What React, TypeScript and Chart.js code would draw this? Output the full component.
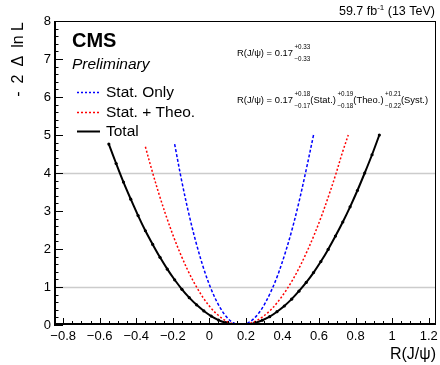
import { useEffect, useRef } from "react";
import { Chart, registerables } from "chart.js";

Chart.register(...registerables);

// ---- data ----
const totalX = [-0.55, -0.51, -0.47, -0.43, -0.39, -0.35, -0.31, -0.27, -0.23, -0.19, -0.15, -0.11, -0.07, -0.03, 0.01, 0.05, 0.09, 0.13, 0.17, 0.21, 0.25, 0.29, 0.33, 0.37, 0.41, 0.45, 0.49, 0.53, 0.57, 0.61, 0.65, 0.69, 0.73, 0.77, 0.81, 0.85, 0.89, 0.93];
const totalY = [4.76, 4.25, 3.76, 3.31, 2.88, 2.48, 2.12, 1.78, 1.47, 1.19, 0.94, 0.72, 0.53, 0.37, 0.235, 0.13, 0.06, 0.015, 0, 0.014, 0.055, 0.125, 0.22, 0.35, 0.5, 0.68, 0.89, 1.12, 1.38, 1.67, 1.99, 2.34, 2.71, 3.11, 3.54, 4.0, 4.48, 5.0];

const theoX = [-0.35, -0.31, -0.27, -0.23, -0.19, -0.15, -0.11, -0.07, -0.03, 0.01, 0.05, 0.09, 0.13, 0.17, 0.21, 0.25, 0.29, 0.33, 0.37, 0.41, 0.45, 0.49, 0.53, 0.57, 0.61, 0.65, 0.69, 0.73, 0.76];
const theoY = [4.69, 4.0, 3.36, 2.78, 2.25, 1.78, 1.36, 1.0, 0.69, 0.44, 0.25, 0.11, 0.028, 0, 0.023, 0.093, 0.21, 0.37, 0.58, 0.84, 1.14, 1.49, 1.89, 2.33, 2.82, 3.36, 3.94, 4.57, 5.0];

const statX = [-0.19, -0.15, -0.11, -0.07, -0.03, 0.01, 0.05, 0.09, 0.13, 0.17, 0.21, 0.25, 0.29, 0.33, 0.37, 0.41, 0.45, 0.49, 0.53, 0.57];
const statY = [4.76, 3.76, 2.88, 2.12, 1.47, 0.94, 0.53, 0.235, 0.059, 0, 0.05, 0.2, 0.45, 0.81, 1.26, 1.82, 2.47, 3.23, 4.09, 5.0];

const xTickValues = [-0.8, -0.6, -0.4, -0.2, 0, 0.2, 0.4, 0.6, 0.8, 1, 1.2];
const xTickLabels = ["\u22120.8", "\u22120.6", "\u22120.4", "\u22120.2", "0", "0.2", "0.4", "0.6", "0.8", "1", "1.2"];
const yTickValues = [0, 1, 2, 3, 4, 5, 6, 7, 8];
const yTickLabels = ["0", "1", "2", "3", "4", "5", "6", "7", "8"];
const gridValues = [1, 4];

const seriesNames = ["Stat. Only", "Stat. + Theo.", "Total"];

const FONT = '"Liberation Sans", Arial, Helvetica, sans-serif';

const toPts = (xs: number[], ys: number[]) => xs.map((x, i) => ({ x, y: ys[i] }));

function drawSupSub(ctx: CanvasRenderingContext2D, x: number, ySup: number, ySub: number, sup: string, sub: string, px: number) {
  ctx.font = `${px}px ${FONT}`;
  ctx.textAlign = "left";
  ctx.textBaseline = "middle";
  ctx.fillText(sup, x, ySup);
  ctx.fillText(sub, x, ySub);
  return Math.max(ctx.measureText(sup).width, ctx.measureText(sub).width);
}

function drawBase(ctx: CanvasRenderingContext2D, text: string, x: number, y: number, px: number) {
  ctx.font = `${px}px ${FONT}`;
  ctx.textAlign = "left";
  ctx.textBaseline = "middle";
  ctx.fillText(text, x, y);
  return ctx.measureText(text).width;
}

const decor = {
  id: "cmsDecor",
  beforeDatasetsDraw(chart: any) {
    const { ctx, chartArea: a, scales } = chart;
    ctx.save();
    ctx.strokeStyle = "#cccccc";
    ctx.lineWidth = 1.5;
    gridValues.forEach((v) => {
      const y = Math.round(scales.y.getPixelForValue(v)) + 0.5;
      ctx.beginPath();
      ctx.moveTo(a.left, y);
      ctx.lineTo(a.right, y);
      ctx.stroke();
    });
    ctx.restore();
  },
  afterDraw(chart: any) {
    const { ctx, chartArea: a, scales } = chart;
    const xs = scales.x;
    const ys = scales.y;
    ctx.save();
    // frame
    ctx.strokeStyle = "#000";
    ctx.lineWidth = 1;
    ctx.strokeRect(a.left + 0.5, a.top + 0.5, a.right - a.left - 1, a.bottom - a.top - 1);
    ctx.lineWidth = 2;
    ctx.beginPath();
    ctx.moveTo(a.left + 1, a.top);
    ctx.lineTo(a.left + 1, a.bottom - 1);
    ctx.lineTo(a.right, a.bottom - 1);
    ctx.stroke();

    // y ticks
    ctx.lineWidth = 1;
    for (let i = 0; i <= 40; i++) {
      const v = i * 0.2;
      const y = Math.round(ys.getPixelForValue(v)) + 0.5;
      const len = i % 5 === 0 ? 9 : 4.5;
      ctx.beginPath();
      ctx.moveTo(a.left, y);
      ctx.lineTo(a.left + len, y);
      ctx.stroke();
    }
    // x ticks
    for (let i = 0; i <= 40; i++) {
      const v = -0.8 + i * 0.05;
      const x = Math.round(xs.getPixelForValue(v)) + 0.5;
      const len = i % 4 === 0 ? 7 : 4;
      ctx.beginPath();
      ctx.moveTo(x, a.bottom);
      ctx.lineTo(x, a.bottom - len);
      ctx.stroke();
    }

    // tick labels
    ctx.fillStyle = "#000";
    ctx.font = `13px ${FONT}`;
    ctx.textBaseline = "middle";
    ctx.textAlign = "right";
    yTickValues.forEach((v, i) => {
      ctx.fillText(yTickLabels[i], a.left - 3, ys.getPixelForValue(v));
    });
    ctx.textAlign = "center";
    xTickValues.forEach((v, i) => {
      ctx.fillText(xTickLabels[i], xs.getPixelForValue(v), a.bottom + 11);
    });

    // axis titles
    ctx.font = `16px ${FONT}`;
    ctx.textAlign = "right";
    ctx.textBaseline = "middle";
    ctx.fillText("R(J/\u03c8)", a.right, 355);
    ctx.save();
    ctx.translate(19, a.top + 1);
    ctx.rotate(-Math.PI / 2);
    ctx.fillText("-\u20022\u2002\u0394\u2002ln L", 0, 0);
    ctx.restore();

    // lumi label
    ctx.textAlign = "right";
    ctx.font = `12.5px ${FONT}`;
    const tail = " (13 TeV)";
    let rx = a.right - 1;
    ctx.fillText(tail, rx, 12);
    rx -= ctx.measureText(tail).width;
    ctx.font = `8px ${FONT}`;
    ctx.fillText("-1", rx, 8);
    rx -= ctx.measureText("-1").width;
    ctx.font = `12.5px ${FONT}`;
    ctx.fillText("59.7 fb", rx, 12);

    // CMS / Preliminary
    ctx.textAlign = "left";
    ctx.font = `bold 20px ${FONT}`;
    ctx.fillText("CMS", 72, 41);
    ctx.font = `italic 15.5px ${FONT}`;
    ctx.fillText("Preliminary", 72, 65);

    // legend
    const legendY = [92, 112, 131];
    const legendColors = ["#0000ff", "#ff0000", "#000000"];
    const legendDash = [[2, 2], [2, 2], []];
    const legendW = [1.5, 1.5, 2];
    seriesNames.forEach((name, i) => {
      ctx.strokeStyle = legendColors[i];
      ctx.lineWidth = legendW[i];
      ctx.setLineDash(legendDash[i]);
      ctx.beginPath();
      ctx.moveTo(77, legendY[i] + 0.5);
      ctx.lineTo(100, legendY[i] + 0.5);
      ctx.stroke();
      ctx.setLineDash([]);
      ctx.fillStyle = "#000";
      ctx.font = `15.5px ${FONT}`;
      ctx.textAlign = "left";
      ctx.textBaseline = "middle";
      ctx.fillText(name, 106, legendY[i] + 1);
    });

    // formulas
    ctx.fillStyle = "#000";
    const fb = 9.4;
    const fs = 6.3;
    let x = 237;
    x += drawBase(ctx, "R(J/\u03c8) = 0.17", x, 53, fb) + 1.5;
    drawSupSub(ctx, x, 47, 59, "+0.33", "\u22120.33", fs);

    x = 237;
    const yb = 100;
    x += drawBase(ctx, "R(J/\u03c8) = 0.17", x, yb, fb) + 1.5;
    x += drawSupSub(ctx, x, yb - 6, yb + 6, "+0.18", "\u22120.17", fs);
    x += drawBase(ctx, "(Stat.)", x, yb, fb) + 1.5;
    x += drawSupSub(ctx, x, yb - 6, yb + 6, "+0.19", "\u22120.18", fs);
    x += drawBase(ctx, "(Theo.)", x, yb, fb) + 1.5;
    x += drawSupSub(ctx, x, yb - 6, yb + 6, "+0.21", "\u22120.22", fs);
    drawBase(ctx, "(Syst.)", x, yb, fb);

    ctx.restore();
  },
};

export default function App() {
  const ref = useRef<HTMLCanvasElement | null>(null);
  useEffect(() => {
    if (!ref.current) return;
    const chart = new Chart(ref.current, {
      type: "line",
      data: {
        datasets: [
          {
            label: seriesNames[0],
            data: toPts(statX, statY),
            borderColor: "#0000ff",
            borderWidth: 1.5,
            borderDash: [3, 2],
            pointRadius: 0,
            tension: 0.35,
            fill: false,
          },
          {
            label: seriesNames[1],
            data: toPts(theoX, theoY),
            borderColor: "#ff0000",
            borderWidth: 1.5,
            borderDash: [2, 2],
            pointRadius: 0,
            tension: 0.35,
            fill: false,
          },
          {
            label: seriesNames[2],
            data: toPts(totalX, totalY),
            borderColor: "#000000",
            backgroundColor: "#000000",
            borderWidth: 2,
            pointRadius: 1.6,
            pointBorderWidth: 0,
            tension: 0.35,
            fill: false,
          },
        ],
      },
      options: {
        animation: false,
        responsive: false,
        maintainAspectRatio: false,
        layout: { padding: { left: 54, right: 3, top: 21, bottom: 40 } },
        plugins: { legend: { display: false }, tooltip: { enabled: false } },
        scales: {
          x: { type: "linear", min: -0.85, max: 1.24, display: false },
          y: { type: "linear", min: 0, max: 8, display: false },
        },
      },
      plugins: [decor],
    });
    return () => chart.destroy();
  }, []);
  return (
    <div style={{ position: "fixed", left: 0, top: 0, width: 440, height: 365, background: "#fff" }}>
      <canvas ref={ref} width={440} height={365} style={{ width: 440, height: 365 }} />
    </div>
  );
}
